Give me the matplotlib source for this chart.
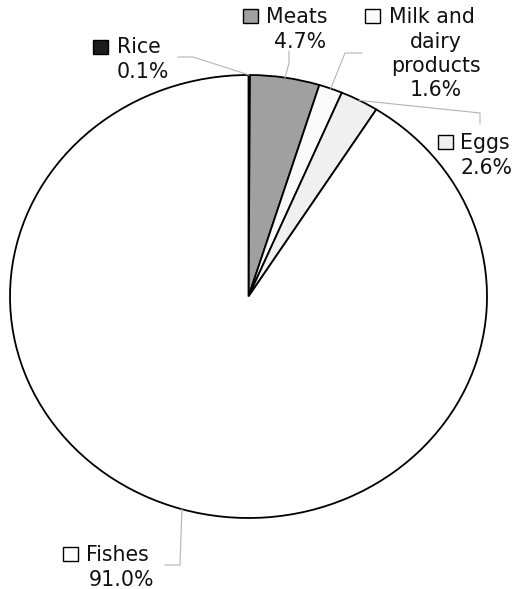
import numpy as np
import matplotlib
matplotlib.use("Agg")
import matplotlib.pyplot as plt
from matplotlib.patches import Rectangle

# data
categories = ["Rice", "Meats", "Milk and\ndairy\nproducts", "Eggs", "Fishes"]
shares = [0.1, 4.7, 1.6, 2.6, 91.0]
colors = ["#1c1c1c", "#a0a0a0", "#fafafa", "#f0f0f0", "#ffffff"]

W, H = 519, 589
fig = plt.figure(figsize=(W / 100, H / 100), dpi=100)

# pie is slightly wider than tall in the original
ax = fig.add_axes([10 / W, 1 - 518 / H, 477 / W, 443 / H])
wedges, _ = ax.pie(shares, colors=colors, startangle=90, counterclock=False,
                   wedgeprops=dict(edgecolor="black", linewidth=1.3))
ax.set_aspect("auto")
ax.set_xlim(-1, 1)
ax.set_ylim(-1, 1)

# overlay in pixel coordinates (origin top-left) for labels and leaders
ov = fig.add_axes([0, 0, 1, 1], zorder=5)
ov.set_xlim(0, W)
ov.set_ylim(H, 0)
ov.axis("off")


def arc_point(w):
    theta = np.deg2rad((w.theta1 + w.theta2) / 2)
    disp = ax.transData.transform((np.cos(theta), np.sin(theta)))
    return ov.transData.inverted().transform(disp)


# label layout: square box, first line start, line centres, baselines, leader bend/end
layout = [
    dict(box=(93, 40), x0=117, cx=143, y0=53, leader=[(193, 57), (178, 57)]),
    dict(box=(243, 9), x0=266, cx=300, y0=23, leader=[(289, 63), (289, 51)]),
    dict(box=(365, 9), x0=389, cx=436, y0=23, leader=[(345, 53), (362, 53)]),
    dict(box=(438, 135), x0=460, cx=487, y0=149, leader=[(480, 113), (480, 124)]),
    dict(box=(63, 547), x0=86, cx=122, y0=561, leader=[(180, 565), (165, 565)]),
]

fs = 14.8
for w, name, val, col, lay in zip(wedges, categories, shares, colors, layout):
    bx, by = lay["box"]
    ov.add_patch(Rectangle((bx, by), 15, 14, facecolor=col, edgecolor="black", lw=1.0))
    lines = name.split("\n") + [f"{val:.1f}%"]
    ov.text(lay["x0"], lay["y0"], lines[0], fontsize=fs, ha="left", va="baseline",
            color="#111111")
    for i, ln in enumerate(lines[1:], start=1):
        ov.text(lay["cx"], lay["y0"] + 24.5 * i, ln, fontsize=fs, ha="center",
                va="baseline", color="#111111")
    p0 = arc_point(w)
    pts = np.array([p0] + lay["leader"])
    ov.plot(pts[:, 0], pts[:, 1], color="#b4b4b4", lw=0.8)

fig.savefig("out.png", dpi=100, facecolor="white")
